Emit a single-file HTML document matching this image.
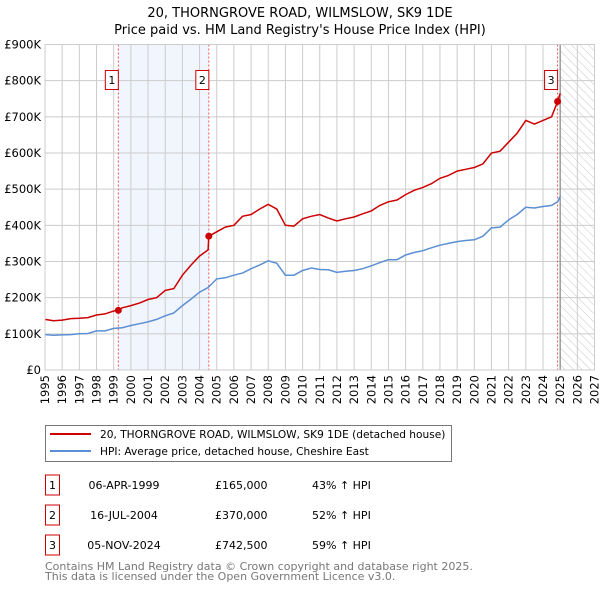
<!DOCTYPE html>
<html><head><meta charset="utf-8"><style>
body{margin:0;background:#fff;font-family:"DejaVu Sans","Liberation Sans",sans-serif;}
svg text{font-family:"DejaVu Sans","Liberation Sans",sans-serif;}
</style></head><body>
<svg id="chart" width="600" height="590" xmlns="http://www.w3.org/2000/svg">
<defs><pattern id="hatch" width="6" height="6" patternUnits="userSpaceOnUse" patternTransform="rotate(-45)"><line x1="0" y1="0" x2="0" y2="6" stroke="#bbb" stroke-width="0.8"/></pattern></defs>
<text x="300" y="17" text-anchor="middle" font-size="13">20, THORNGROVE ROAD, WILMSLOW, SK9 1DE</text>
<text x="300" y="34" text-anchor="middle" font-size="13">Price paid vs. HM Land Registry's House Price Index (HPI)</text>
<g id="plot"></g>
<g>
<rect x="45.5" y="425.5" width="406" height="36" fill="#fff" stroke="#777"/>
<line x1="50" y1="434" x2="91" y2="434" stroke="#cc0000" stroke-width="2"/>
<text x="100" y="438" font-size="10.6">20, THORNGROVE ROAD, WILMSLOW, SK9 1DE (detached house)</text>
<line x1="50" y1="451" x2="91" y2="451" stroke="#5b8fd4" stroke-width="2"/>
<text x="100" y="455" font-size="10.6">HPI: Average price, detached house, Cheshire East</text>
</g>
<g id="table"></g>
<text x="45" y="570" font-size="11" fill="#777">Contains HM Land Registry data © Crown copyright and database right 2025.</text>
<text x="45" y="580" font-size="11" fill="#777">This data is licensed under the Open Government Licence v3.0.</text>
</svg>
<script>
const hpiYears=[1995,1995.5,1996,1996.5,1997,1997.5,1998,1998.5,1999,1999.5,2000,2000.5,2001,2001.5,2002,2002.5,2003,2003.5,2004,2004.5,2005,2005.5,2006,2006.5,2007,2007.5,2008,2008.5,2009,2009.5,2010,2010.5,2011,2011.5,2012,2012.5,2013,2013.5,2014,2014.5,2015,2015.5,2016,2016.5,2017,2017.5,2018,2018.5,2019,2019.5,2020,2020.5,2021,2021.5,2022,2022.5,2023,2023.5,2024,2024.5,2024.85,2025];
const hpiValues=[98,96,97,98,100,101,108,108,115,117,123,128,133,140,150,158,178,196,215,228,252,255,262,268,280,290,302,295,262,262,275,282,278,277,270,273,275,280,288,297,305,305,318,325,330,338,345,350,355,358,360,370,393,395,415,430,450,448,452,455,465,480];
const priceYears=[1995,1995.5,1996,1996.5,1997,1997.5,1998,1998.5,1999,1999.27,1999.5,2000,2000.5,2001,2001.5,2002,2002.5,2003,2003.5,2004,2004.5,2004.54,2005,2005.5,2006,2006.5,2007,2007.5,2008,2008.5,2009,2009.5,2010,2010.5,2011,2011.5,2012,2012.5,2013,2013.5,2014,2014.5,2015,2015.5,2016,2016.5,2017,2017.5,2018,2018.5,2019,2019.5,2020,2020.5,2021,2021.5,2022,2022.5,2023,2023.5,2024,2024.5,2024.85,2025];
const priceValues=[140,136,138,142,143,145,152,155,163,165,172,178,185,195,200,220,225,262,290,315,332,370,382,395,400,425,430,445,458,445,400,398,418,425,430,420,412,418,423,432,440,455,465,470,485,497,505,515,530,538,550,555,560,570,600,605,630,655,690,680,690,700,742.5,765];
const saleYears=[1999.27,2004.54,2024.85];
const saleValues=[165,370,742.5];
const saleLabels=["1","2","3"];
const saleDates=["06-APR-1999","16-JUL-2004","05-NOV-2024"];
const salePrices=["£165,000","£370,000","£742,500"];
const saleDiffs=["43% ↑ HPI","52% ↑ HPI","59% ↑ HPI"];
const yTicks=[0,100,200,300,400,500,600,700,800,900];
const yTickLabels=["£0","£100K","£200K","£300K","£400K","£500K","£600K","£700K","£800K","£900K"];
const xTicks=[1995,1996,1997,1998,1999,2000,2001,2002,2003,2004,2005,2006,2007,2008,2009,2010,2011,2012,2013,2014,2015,2016,2017,2018,2019,2020,2021,2022,2023,2024,2025,2026,2027];

const X0=45,X1=594.5,Y0=370,Y1=44.5;
const x=v=>X0+(v-1995)/(2027-1995)*(X1-X0);
const y=v=>Y0-(v/900)*(Y0-Y1);
const NS="http://www.w3.org/2000/svg";
function mk(tag,attrs,parent){const e=document.createElementNS(NS,tag);for(const k in attrs)e.setAttribute(k,attrs[k]);parent.appendChild(e);return e;}
const plot=document.getElementById('plot');
let r=mk('rect',{x:x(saleYears[0]),y:Y1,width:x(saleYears[1])-x(saleYears[0]),height:Y0-Y1,fill:'#eef3fc',opacity:0.8},plot);


let h=mk('rect',{x:x(2025),y:Y1,width:X1-x(2025),height:Y0-Y1,fill:'url(#hatch)'},plot);


yTicks.forEach((t,i)=>{
 let l=mk('line',{x1:X0,x2:X1,y1:y(t),y2:y(t),stroke:'#ccc'},plot);
 
 
 let tx=mk('text',{x:X0-4,y:y(t)+4,'text-anchor':'end','font-size':'11.5'},plot);
 
 
 tx.textContent=yTickLabels[i];
});
xTicks.forEach(t=>{
 let l=mk('line',{x1:x(t),x2:x(t),y1:Y1,y2:Y0,stroke:'#ccc'},plot);
 
 
 let tx=mk('text',{x:0,y:0,'text-anchor':'end','font-size':'11.5',transform:`translate(${x(t)+4},${Y0+5}) rotate(-90)`},plot);
 
 
 tx.textContent=t;
});
let bl=mk('line',{x1:x(2025),x2:x(2025),y1:Y1,y2:Y0,stroke:'#888','stroke-width':1.2},plot);


saleYears.forEach((s,i)=>{
 let l=mk('line',{x1:x(s),x2:x(s),y1:Y1,y2:Y0,stroke:'#e55','stroke-dasharray':'2,2'},plot);
 
 
});
function path(xs,vs){return xs.map((a,i)=>(i?'L':'M')+x(a).toFixed(1)+','+y(vs[i]).toFixed(1)).join(' ');}
let hp=mk('path',{d:path(hpiYears,hpiValues),fill:'none',stroke:'#5b8fd4','stroke-width':1.5},plot);


let pp=mk('path',{d:path(priceYears,priceValues),fill:'none',stroke:'#cc0000','stroke-width':1.5},plot);


saleYears.forEach((s,i)=>{
 let c=mk('circle',{cx:x(s),cy:y(saleValues[i]),r:3.5,fill:'#cc0000'},plot);
 
 
 let bx=mk('rect',{x:x(s)-13,y:70.5,width:13,height:19,fill:'#fff',stroke:'#cc0000'},plot);
 
 
 let tx=mk('text',{x:x(s)-6.5,y:84,'text-anchor':'middle','font-size':'11'},plot);
 
 
 tx.textContent=saleLabels[i];
});
let fr=mk('rect',{x:X0,y:Y1,width:X1-X0,height:Y0-Y1,fill:'none',stroke:'#ccc'},plot);


const tb=document.getElementById('table');
saleLabels.forEach((lab,i)=>{
 const cy=485+i*30;
 let b=mk('rect',{x:45.5,y:cy-10,width:14,height:20,fill:'#fff',stroke:'#cc0000'},tb);
 
 
 const vals=[lab,saleDates[i],salePrices[i],saleDiffs[i]];
 const xs=[52.5,124,215,312];const an=['middle','middle','start','start'];
 vals.forEach((v,j)=>{
  let t=mk('text',{x:xs[j],y:cy+4,'text-anchor':an[j],'font-size':'11'},tb);
  
  
  t.textContent=v;
 });
});
</script>
</body></html>
